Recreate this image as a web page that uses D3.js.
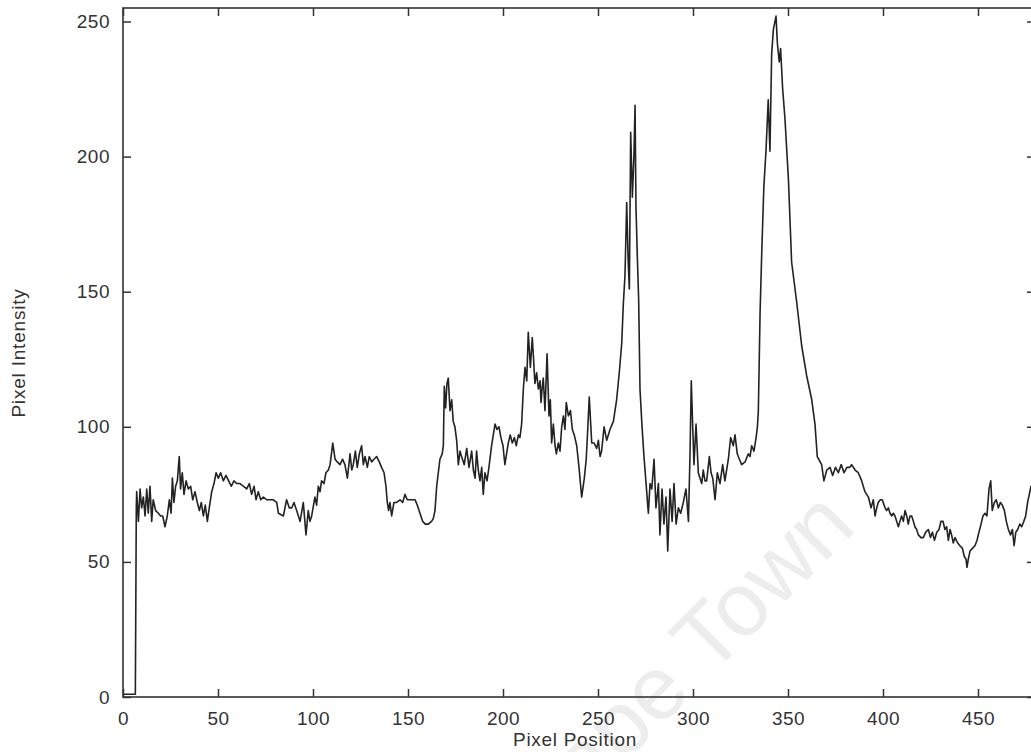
<!DOCTYPE html>
<html>
<head>
<meta charset="utf-8">
<script src="https://cdn.jsdelivr.net/npm/d3@7/dist/d3.min.js"></script>
<style>
  body { margin: 0; background: #fff; }
  svg { display: block; font-family: "Liberation Sans", Arial, Helvetica, sans-serif; }
</style>
</head>
<body>
<div id="chart"></div>
<script>
// profile: position along the line and grey level there
var pixelPos = [
  0, 6.5, 7, 7.2, 8.1, 9, 9.8, 10.7, 11.6, 12.5, 13.3, 14.2, 15.1, 15.9, 17.2, 18.6, 19.8, 20.9, 22.1, 23.3,
  24.4, 25.3, 26, 26.8, 27.7, 28.6, 29.6, 30.3, 31.2, 32.1, 33.2, 34.4, 35.6, 36.7, 37.9, 39.1, 40.2, 41.2, 42.3, 43.3,
  44.4, 45.4, 46.7, 47.9, 49, 50.2, 51.4, 52.8, 54.2, 55.6, 57, 58.4, 59.8, 61.6, 63.3, 65.1, 66.5, 67.7, 69, 70,
  71.2, 72.5, 73.9, 75.6, 77.4, 79.1, 80.9, 81.8, 84.4, 86.1, 87.5, 88.8, 90, 91.4, 93.2, 94.9, 96.3, 97.5, 98.4, 99.3,
  101, 101.9, 102.8, 103.7, 104.5, 105.8, 106.8, 108.1, 109, 110.4, 111.6, 112.8, 114.2, 115.6, 116.8, 118.1, 119.5, 120.4, 121.2, 122.3,
  123.3, 124.4, 125.6, 126.5, 127.4, 128.6, 129.6, 130.9, 132.1, 133.5, 134.9, 136.1, 137.4, 138.4, 139.1, 139.8, 140.5, 141.4, 142.6, 144,
  145.8, 147.2, 148.4, 149.6, 151, 152.4, 153.7, 154.9, 156.3, 157.7, 159.1, 160.7, 162.4, 163.3, 164.2, 165.1, 166.8, 168, 168.6, 169.1,
  169.8, 170.5, 171.2, 172.1, 173, 173.8, 174.7, 175.6, 176.5, 177.4, 178.2, 179.6, 180.9, 182.1, 183.5, 184.4, 185.3, 186.1, 187, 187.9,
  188.8, 189.6, 190.5, 191.6, 192.6, 194, 194.9, 195.8, 196.8, 197.9, 198.9, 200, 201, 202.1, 202.8, 203.8, 204.9, 206, 207, 208.1,
  208.9, 209.8, 210.7, 211.6, 212.5, 213.3, 214.4, 215.4, 216.1, 216.8, 217.7, 218.6, 219.5, 220, 220.7, 221.2, 222.1, 223.2, 224.2, 224.9,
  225.6, 226.5, 227.4, 228.1, 229.1, 230, 230.9, 231.8, 232.6, 233.3, 234.4, 235.5, 236.5, 237.5, 238.8, 240, 241.4, 242.8, 243.8, 244.6,
  245.4, 246.7, 247.9, 249.3, 250.2, 251.1, 251.9, 253.2, 254.6, 256.3, 258.1, 259.8, 261.2, 262.5, 263.3, 264.2, 265.1, 265.9, 266.5, 267.2,
  268.1, 268.9, 269.5, 270, 270.7, 271.4, 272.1, 273.1, 274.2, 275.3, 276.5, 277.4, 278.3, 279.5, 280.5, 281.8, 282.6, 283.7, 284.7, 285.8,
  286.7, 287.9, 289, 290, 291.1, 292.3, 293.5, 294.9, 296.3, 297.6, 298.4, 299.1, 299.8, 300.5, 301.6, 302.8, 303.7, 304.6, 305.4, 306.3,
  307.2, 308.6, 309.5, 310.4, 311.6, 312.8, 314.2, 315.6, 316.8, 318.6, 319.8, 321.2, 322.1, 323.3, 324.4, 325.6, 327.4, 329.1, 330, 330.9,
  332.1, 333.2, 333.9, 334.4, 335.3, 336.2, 337.3, 338.4, 339.6, 340.5, 341.4, 342.3, 343.7, 344.4, 345.4, 346.1, 347.2, 348.4, 350.2, 351.9,
  354.6, 357.2, 359.8, 362.5, 364.2, 365.4, 367.7, 368.9, 370.4, 372.1, 373.5, 375, 376.5, 378, 379.5, 381, 382.5, 383.5, 385.3, 387,
  388.8, 389.6, 390.5, 391.4, 392.3, 393.7, 394.9, 395.8, 396.7, 397.5, 398.6, 399.6, 401.1, 401.9, 402.8, 403.7, 404.6, 405.4, 406.3, 407.2,
  408.1, 408.9, 409.8, 410.7, 411.6, 412.5, 413.3, 414.2, 415.1, 416, 416.8, 417.7, 418.6, 420, 421.2, 422.5, 423.9, 425, 426, 427.1,
  428.3, 429.5, 430.5, 431.6, 432.6, 433.5, 434.4, 435.3, 436.1, 437, 437.9, 439.3, 440.5, 441.8, 442.8, 443.7, 444.2, 444.9, 445.8, 447,
  448.4, 449.5, 450.5, 451.6, 452.6, 453.7, 454.7, 455.8, 456.7, 457.5, 458.6, 459.6, 460.7, 461.8, 462.8, 463.9, 464.9, 466, 467.1, 468.1,
  469, 469.9, 470.9, 472, 473, 474.1, 475.1, 476.1, 477, 477.9, 479
];
var intensity = [
  1, 1, 70, 76, 65, 77, 70, 74, 67, 77, 68, 78, 65, 73, 69, 68, 67, 67, 63, 67,
  73, 68, 81, 72, 78, 80, 89, 77, 83, 75, 80, 77, 78, 73, 76, 72, 69, 72, 67, 71,
  65, 70, 76, 79, 83, 81, 83, 80, 82, 80, 78, 80, 79, 79, 78, 77, 79, 75, 78, 73,
  76, 73, 74, 73, 73, 73, 72, 68, 67, 73, 70, 70, 72, 69, 65, 72, 60, 69, 65, 67,
  74, 71, 78, 76, 80, 79, 83, 84, 86, 94, 88, 87, 86, 88, 86, 81, 90, 84, 86, 91,
  85, 90, 93, 86, 89, 85, 89, 87, 88, 89, 87, 85, 83, 78, 72, 69, 72, 67, 72, 72,
  73, 72, 75, 73, 73, 73, 73, 71, 68, 65, 64, 64, 65, 66, 69, 78, 88, 90, 93, 115,
  107, 116, 118, 106, 110, 102, 100, 95, 86, 91, 89, 86, 92, 85, 91, 84, 81, 91, 84, 80,
  85, 75, 83, 80, 85, 93, 97, 101, 99, 100, 96, 93, 86, 91, 94, 97, 94, 96, 93, 97,
  96, 101, 114, 122, 117, 135, 122, 133, 125, 116, 120, 114, 117, 109, 115, 118, 106, 127, 104, 110,
  94, 101, 93, 90, 94, 91, 100, 104, 99, 109, 104, 106, 99, 97, 93, 85, 74, 81, 88, 99,
  111, 94, 94, 92, 95, 89, 91, 100, 95, 99, 102, 110, 120, 131, 145, 156, 183, 161, 151, 209,
  185, 200, 219, 181, 163, 147, 114, 101, 89, 79, 68, 79, 77, 88, 70, 79, 60, 77, 64, 74,
  54, 77, 65, 79, 64, 70, 68, 72, 77, 65, 89, 117, 101, 86, 101, 83, 81, 79, 84, 80,
  80, 89, 83, 81, 73, 83, 79, 86, 80, 88, 96, 93, 97, 90, 88, 86, 87, 90, 89, 93,
  91, 96, 100, 106, 142, 165, 189, 202, 221, 202, 238, 247, 252, 242, 235, 240, 225, 214, 192, 161,
  146, 130, 119, 110, 101, 89, 86, 80, 84, 85, 82, 85, 83, 86, 83, 85, 85, 86, 84, 83,
  80, 78, 76, 75, 74, 70, 73, 67, 70, 72, 73, 73, 70, 69, 70, 68, 67, 68, 67, 65,
  63, 65, 67, 65, 69, 67, 64, 67, 67, 65, 63, 62, 60, 59, 59, 61, 62, 59, 61, 58,
  61, 62, 65, 65, 62, 63, 58, 62, 60, 57, 59, 57, 56, 55, 52, 51, 48, 51, 54, 55,
  56, 58, 61, 64, 67, 68, 67, 77, 80, 69, 72, 73, 70, 72, 71, 69, 65, 62, 60, 62,
  56, 61, 62, 64, 63, 65, 67, 72, 75, 78, 76
];
var xTicks = [0, 50, 100, 150, 200, 250, 300, 350, 400, 450];
var yTicks = [0, 50, 100, 150, 200, 250];
var xLabel = 'Pixel Position';
var yLabel = 'Pixel Intensity';
var watermark = 'Cape Town';

var width = 1031;
var height = 752;
var margin = { top: 8, left: 123, bottom: 55, right: -4 };
var innerW = width - margin.left - margin.right;
var innerH = height - margin.top - margin.bottom;
var ink = '#333';

var svg = d3.select('#chart').append('svg')
  .attr('width', width)
  .attr('height', height);

// faint scan watermark, sits under everything
svg.append('text')
  .attr('transform', 'translate(541,846) rotate(-45)')
  .attr('font-size', 90)
  .attr('fill', '#ededed')
  .text(watermark);

var g = svg.append('g')
  .attr('transform', 'translate(' + margin.left + ',' + margin.top + ')');

var x = d3.scaleLinear().domain([0, 480]).range([0, innerW]);
var y = d3.scaleLinear().domain([0, 255]).range([innerH, 0]);

g.append('clipPath').attr('id', 'plot-clip')
  .append('rect').attr('width', innerW).attr('height', innerH + 1);

var points = pixelPos.map(function (p, i) { return [p, intensity[i]]; });

var line = d3.line()
  .x(function (d) { return x(d[0]); })
  .y(function (d) { return y(d[1]); });

g.append('path')
  .datum(points)
  .attr('clip-path', 'url(#plot-clip)')
  .attr('fill', 'none')
  .attr('stroke', '#222')
  .attr('stroke-width', 1.6)
  .attr('stroke-linejoin', 'round')
  .attr('d', line);

// axes: ticks point inward on all four sides
var xAxisBottom = g.append('g')
  .attr('transform', 'translate(0,' + innerH + ')')
  .call(d3.axisBottom(x).tickValues(xTicks).tickSize(-8).tickSizeOuter(0).tickPadding(15));
var yAxisLeft = g.append('g')
  .call(d3.axisLeft(y).tickValues(yTicks).tickSize(-8).tickSizeOuter(0).tickPadding(13));
var xAxisTop = g.append('g')
  .call(d3.axisTop(x).tickValues(xTicks).tickSize(-8).tickSizeOuter(0).tickFormat(''));
var yAxisRight = g.append('g')
  .attr('transform', 'translate(' + innerW + ',0)')
  .call(d3.axisRight(y).tickValues(yTicks).tickSize(-8).tickSizeOuter(0).tickFormat(''));

[xAxisBottom, yAxisLeft, xAxisTop, yAxisRight].forEach(function (ax) {
  ax.select('.domain').remove();
  ax.selectAll('line').attr('stroke', ink).attr('stroke-width', 1.5);
  ax.selectAll('text')
    .attr('fill', ink)
    .attr('font-size', 19)
    .attr('letter-spacing', 0.5)
    .attr('font-family', '"Liberation Sans", Arial, sans-serif');
});

g.append('rect')
  .attr('width', innerW)
  .attr('height', innerH)
  .attr('fill', 'none')
  .attr('stroke', ink)
  .attr('stroke-width', 1.6);

svg.append('text')
  .attr('x', 575)
  .attr('y', 746)
  .attr('text-anchor', 'middle')
  .attr('font-size', 19)
  .attr('letter-spacing', 0.7)
  .attr('fill', ink)
  .text(xLabel);

svg.append('text')
  .attr('transform', 'translate(25,353) rotate(-90)')
  .attr('text-anchor', 'middle')
  .attr('font-size', 19)
  .attr('letter-spacing', 0.8)
  .attr('fill', ink)
  .text(yLabel);
</script>
</body>
</html>
